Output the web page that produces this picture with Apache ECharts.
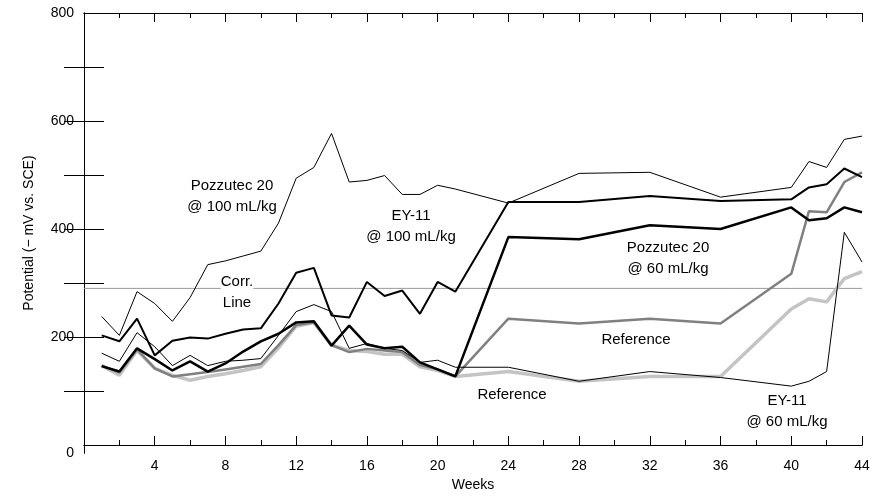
<!DOCTYPE html>
<html><head><meta charset="utf-8">
<script src="https://cdn.jsdelivr.net/npm/echarts@6/dist/echarts.min.js"></script>
<style>html,body{margin:0;padding:0;background:#fff}#c{width:873px;height:497px}</style>
</head><body><div id="c"></div>
<script>
const weeks = [1,2,3,4,5,6,7,8,9,10,11,12,13,14,15,16,17,18,19,20,21,24,28,32,36,40,41,42,43,44];
const pozz100 = [238,203,284,262,229,273,334,341,350,359,411,494,514,577,487,490,499,464,464,481,474,448,503,505,459,477,525,514,566,572];
const ey100   = [203,192,234,166,193,199,197,206,214,216,262,319,328,240,236,302,276,286,243,302,284,450,450,461,452,455,477,483,512,496];
const pozz60  = [146,136,179,159,138,155,136,151,173,192,206,227,229,184,221,186,179,182,153,140,127,385,381,407,400,440,416,420,440,431];
const ey60    = [170,155,208,182,147,166,147,155,157,160,203,247,260,247,179,188,179,175,153,157,144,144,118,136,125,109,118,136,394,339];
const refDark = [147,134,177,142,127,131,135,140,145,150,185,222,227,185,172,178,175,172,148,140,127,234,225,234,225,317,433,431,487,505];
const refLight= [147,129,175,142,129,120,127,132,138,145,180,220,227,185,175,173,168,168,145,138,127,136,118,127,127,252,271,265,308,321];
const corrLine = 290;
const xLabels = [4,8,12,16,20,24,28,32,36,40,44];

const pts = a => weeks.map((w,i)=>[w,a[i]]);
const font = 'Liberation Sans, Arial, sans-serif';
const minorX = []; for (let i=2;i<=44;i+=2) minorX.push(i);
const yTicks = [100,200,300,400,500,600,700];
function xa(pos, ticks, len, labels){
  return {type:'value',min:0,max:44,position:pos,
    axisLine:{show:true,lineStyle:{color:'#000',width:1}},
    axisTick:{show:true,inside:true,length:len,customValues:ticks,lineStyle:{color:'#000'}},
    axisLabel:{show:labels,customValues:xLabels,color:'#000',fontSize:14,fontFamily:font,margin:6},
    splitLine:{show:false}};
}
function ya(pos, labels){
  return {type:'value',min:-15,max:800,position:pos,
    axisLine:{show:true,lineStyle:{color:'#000',width:1}},
    axisTick:{show:true,inside:true,length:20,customValues:yTicks,lineStyle:{color:'#000'}},
    axisLabel:{show:labels,customValues:[-15,200,400,600,800],formatter:v=>v<0?'0':String(v),color:'#000',fontSize:14,fontFamily:font,margin:10},
    splitLine:{show:false}};
}
const line = (d,color,w,z)=>({type:'line',data:pts(d),symbol:'none',lineStyle:{color:color,width:w},z:z,animation:false,xAxisIndex:0,yAxisIndex:0});
const chart = echarts.init(document.getElementById('c'));
const txt = (x,y,t,bg)=>({type:'text',x:x,y:y,z:100,style:{text:t,font:'15px '+font,fill:'#000',align:'center',verticalAlign:'middle',lineHeight:21,backgroundColor:bg?'#fff':undefined}});
chart.setOption({
  animation:false,
  grid:{left:84,right:11,top:13,bottom:42},
  xAxis:[
    Object.assign(xa('bottom',xLabels,9,true),{name:'Weeks',nameLocation:'middle',nameGap:22,nameTextStyle:{color:'#000',fontSize:14,fontFamily:font}}),
    xa('bottom',minorX,5,false),
    xa('top',xLabels,9,false),
    xa('top',minorX,5,false)
  ],
  yAxis:[
    Object.assign(ya('left',true),{name:'Potential (\u2212 mV vs. SCE)',nameLocation:'middle',nameGap:48,nameTextStyle:{color:'#000',fontSize:14,fontFamily:font}}),
    ya('right',false)
  ],
  series:[
    {type:'line',data:[[0,corrLine],[44,corrLine]],symbol:'none',lineStyle:{color:'#999',width:1},z:1},
    line(refLight,'#c4c4c4',3.5,2),
    line(refDark,'#808080',2.5,3),
    line(ey60,'#000',1,4),
    line(pozz100,'#000',1,4),
    line(pozz60,'#000',2.5,5),
    line(ey100,'#000',2,5)
  ],
  graphic:[
    txt(232,196,'Pozzutec 20\n@ 100 mL/kg'),
    txt(411,226,'EY-11\n@ 100 mL/kg'),
    txt(237,292,'Corr.\nLine',true),
    txt(668,258,'Pozzutec 20\n@ 60 mL/kg'),
    txt(636,340,'Reference'),
    txt(512,395,'Reference'),
    txt(787,411,'EY-11\n@ 60 mL/kg')
  ]
});
</script></body></html>
